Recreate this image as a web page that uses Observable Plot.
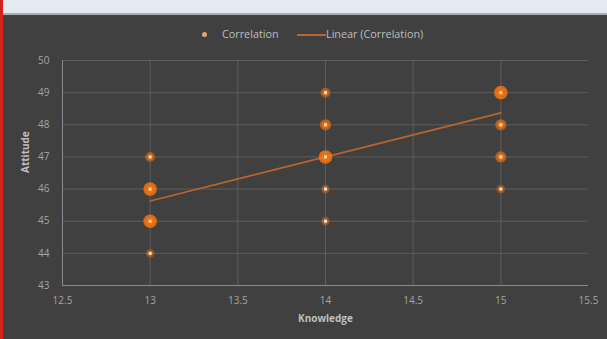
<!DOCTYPE html>
<html>
<head>
<meta charset="utf-8">
<script src="https://cdn.jsdelivr.net/npm/d3@7"></script>
<script src="https://cdn.jsdelivr.net/npm/@observablehq/plot@0.6"></script>
<style>
  html, body { margin: 0; padding: 0; background: #404040; }
  #wrap { position: relative; width: 607px; height: 339px; overflow: hidden; background: #404040; font-family: "Open Sans", sans-serif; }
  #topstrip { position: absolute; left: 0; top: 0; width: 607px; height: 13px; background: #e4eaf2; border-bottom: 2px solid #a9adb2; }
  #redbar { position: absolute; left: 0; top: 0; width: 3px; height: 339px; background: #d2231d; z-index: 3; }
  #legend { position: absolute; left: 0; top: 26px; width: 607px; height: 16px; font-size: 10.8px; color: #bfbfbf; z-index: 2; }
  #legend .item { position: absolute; top: 0; white-space: nowrap; }
  #chart { position: absolute; left: 0; top: 0; }
</style>
</head>
<body>
<div id="wrap">
  <div id="chart"></div>
  <div id="topstrip"></div>
  <div id="redbar"></div>
  <div id="legend">
    <span class="item" style="left:202px;top:6px;width:5px;height:5px;border-radius:50%;background:#f0a060;"></span>
    <span class="item" style="left:222px;">Correlation</span>
    <span class="item" style="left:297px;top:8px;width:29px;height:2px;background:#b8652e;"></span>
    <span class="item" style="left:326px;">Linear (Correlation)</span>
  </div>
</div>
<script>
// Data
const knowledge = [13, 13, 13, 13, 14, 14, 14, 14, 14, 15, 15, 15, 15];
const attitude  = [44, 45, 46, 47, 45, 46, 47, 48, 49, 46, 47, 48, 49];
const weight    = [1, 3, 3, 1.5, 1, 1, 3, 2, 1.5, 1, 2, 2, 3];

const trendX = [13, 15];
const trendY = [45.63, 48.37];

const xTicks = [12.5, 13, 13.5, 14, 14.5, 15, 15.5];
const yTicks = [43, 44, 45, 46, 47, 48, 49, 50];

const points = knowledge.map((k, i) => ({x: k, y: attitude[i], w: weight[i]}));
const trend = trendX.map((x, i) => ({x, y: trendY[i]}));

const plot = Plot.plot({
  width: 607,
  height: 339,
  marginLeft: 62,
  marginRight: 19,
  marginTop: 60,
  marginBottom: 54,
  style: {background: "transparent", color: "#a6a6a6", fontFamily: "Open Sans, sans-serif", fontSize: "10px"},
  x: {domain: [12.5, 15.5], ticks: xTicks, tickFormat: d => String(d), label: null},
  y: {domain: [43, 50], ticks: yTicks, tickFormat: d => String(d), label: null},
  r: {type: "identity"},
  marks: [
    Plot.gridX(xTicks.filter(d => d !== 15.5 && d !== 12.5), {stroke: "#5c5c5c", strokeOpacity: 1}),
    Plot.gridY(yTicks, {stroke: "#5c5c5c", strokeOpacity: 1}),
    Plot.ruleX([12.5], {stroke: "#8a8a8a"}),
    Plot.ruleY([43], {stroke: "#8a8a8a"}),
    Plot.axisX({ticks: xTicks, tickSize: 0, tickPadding: 11, tickFormat: d => String(d), fill: "#a6a6a6", label: null}),
    Plot.axisY({ticks: yTicks, tickSize: 0, tickPadding: 13, tickFormat: d => String(d), fill: "#a6a6a6", label: null}),
    Plot.line(trend, {x: "x", y: "y", stroke: "#b8652e", strokeWidth: 1.6}),
    Plot.dot(points, {x: "x", y: "y", r: d => 3.2 + d.w * 1.2, fill: "#ff7a10", fillOpacity: d => 0.12 + d.w * 0.22, ariaLabel: "glow"}),
    Plot.dot(points, {x: "x", y: "y", r: d => 1.8 + d.w * 0.9, fill: "#f07010", fillOpacity: d => 0.2 + d.w * 0.25, ariaLabel: "glow2"}),
    Plot.dot(points, {x: "x", y: "y", symbol: "square", r: 1.7, fill: "#fcd8b8"}),
    Plot.text(["Knowledge"], {frameAnchor: "bottom", dy: 36, text: d => d, fill: "#bfbfbf", fontWeight: "bold", fontSize: 10}),
    Plot.text(["Attitude"], {frameAnchor: "left", dx: -37, rotate: -90, text: d => d, fill: "#bfbfbf", fontWeight: "bold", fontSize: 10})
  ]
});

const svg = d3.select(plot);
const defs = svg.insert("defs", ":first-child");
defs.append("filter").attr("id", "glowblur").attr("x", "-50%").attr("y", "-50%").attr("width", "200%").attr("height", "200%")
  .append("feGaussianBlur").attr("stdDeviation", 1.8);
defs.append("filter").attr("id", "glowblur2").attr("x", "-50%").attr("y", "-50%").attr("width", "200%").attr("height", "200%")
  .append("feGaussianBlur").attr("stdDeviation", 0.8);
svg.select('g[aria-label="glow"]').attr("filter", "url(#glowblur)");
svg.select('g[aria-label="glow2"]').attr("filter", "url(#glowblur2)");

document.getElementById("chart").appendChild(plot);
</script>
</body>
</html>
